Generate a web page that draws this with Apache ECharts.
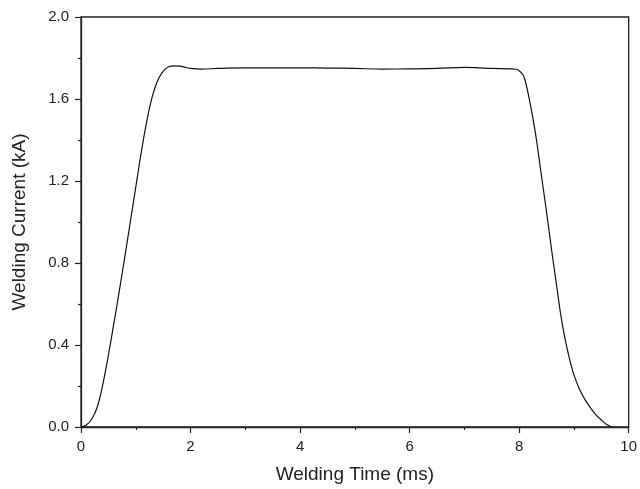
<!DOCTYPE html>
<html>
<head>
<meta charset="utf-8">
<script src="https://cdn.jsdelivr.net/npm/echarts@6/dist/echarts.min.js"></script>
<style>html,body{margin:0;padding:0;background:#fff}#c{width:640px;height:489px}</style>
</head>
<body>
<div id="c"></div>
<script>
var timeMs = [0,0.1,0.2,0.3,0.4,0.5,0.6,0.7,0.8,0.9,1.0,1.1,1.2,1.3,1.4,1.5,1.6,1.7,1.8,1.9,2.0,2.2,2.5,3.0,3.5,4.0,4.5,5.0,5.5,6.0,6.5,7.0,7.2,7.5,7.8,7.95,8.05,8.1,8.2,8.3,8.4,8.5,8.6,8.7,8.75,8.8,8.85,8.9,8.95,9.0,9.1,9.2,9.3,9.4,9.5,9.6,9.7];
var currentKA = [0,0.01,0.04,0.10,0.21,0.35,0.505,0.665,0.83,1.0,1.17,1.34,1.49,1.61,1.69,1.735,1.757,1.762,1.76,1.755,1.749,1.746,1.749,1.752,1.752,1.752,1.751,1.749,1.746,1.747,1.749,1.754,1.753,1.749,1.747,1.745,1.725,1.70,1.58,1.43,1.24,1.05,0.85,0.66,0.565,0.485,0.415,0.355,0.30,0.255,0.185,0.135,0.095,0.06,0.034,0.012,0];
var xTitle = 'Welding Time (ms)';
var yTitle = 'Welding Current (kA)';

var data = timeMs.map(function(t,i){return [t,currentKA[i]];});
var chart = echarts.init(document.getElementById('c'));
var font = 'Liberation Sans, Arial, sans-serif';
var axColor = '#222';
chart.setOption({
  animation:false,
  grid:{left:81,top:17,right:9,bottom:62,show:true,borderColor:axColor,borderWidth:1.3},
  xAxis:[{
    type:'value',min:0,max:10,interval:2,
    name:xTitle,nameLocation:'middle',nameGap:38,
    nameTextStyle:{fontFamily:font,fontSize:19,color:axColor},
    axisLine:{show:true,lineStyle:{color:axColor,width:1.3}},
    axisTick:{show:true,inside:false,length:6,lineStyle:{color:axColor,width:1.2}},
    minorTick:{show:true,splitNumber:2,length:3,lineStyle:{color:axColor,width:1.2}},
    axisLabel:{fontFamily:font,fontSize:15,color:axColor,margin:12},
    splitLine:{show:false}
  }],
  yAxis:[{
    type:'value',min:0,max:2.0,interval:0.4,
    name:yTitle,nameLocation:'middle',nameGap:52,
    nameTextStyle:{fontFamily:font,fontSize:19,color:axColor},
    axisLine:{show:true,lineStyle:{color:axColor,width:1.3}},
    axisTick:{show:true,inside:false,length:6,lineStyle:{color:axColor,width:1.2}},
    minorTick:{show:true,splitNumber:2,length:3,lineStyle:{color:axColor,width:1.2}},
    axisLabel:{fontFamily:font,fontSize:15,color:axColor,margin:12,formatter:function(v){return v.toFixed(1);}},
    splitLine:{show:false}
  }],
  series:[{
    type:'line',data:data,smooth:0.4,showSymbol:false,
    lineStyle:{color:'#111',width:1.2}
  }]
});
</script>
</body>
</html>
